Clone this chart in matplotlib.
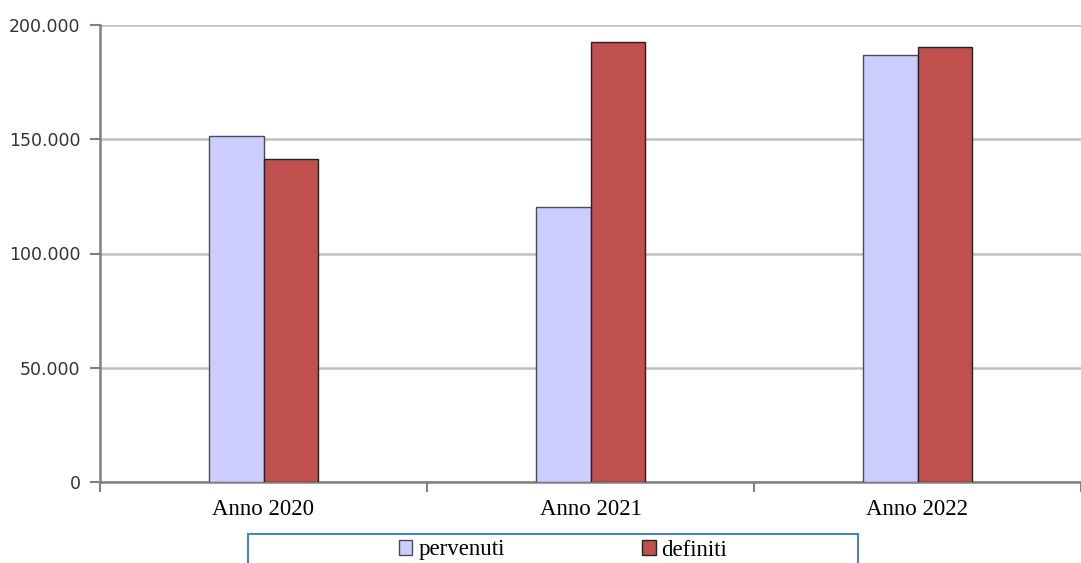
import numpy as np
import matplotlib
matplotlib.use("Agg")
import matplotlib.pyplot as plt
from matplotlib.patches import Rectangle
from matplotlib.ticker import FuncFormatter

# dati
anni = ["Anno 2020", "Anno 2021", "Anno 2022"]
pervenuti = [151400, 120400, 187000]
definiti = [141500, 192700, 190200]

fig = plt.figure(figsize=(10.81, 5.63), dpi=100)
ax = fig.add_axes([100/1081, 81/563, 981/1081, 457/563])

x = np.arange(len(anni))
w = 0.167
ax.bar(x - w/2, pervenuti, w, color='#ccccff', edgecolor='#4a4a5a', linewidth=1, label='pervenuti', zorder=3)
ax.bar(x + w/2, definiti, w, color='#c0504d', edgecolor='#222222', linewidth=1, label='definiti', zorder=3)

ax.set_xlim(-0.5, 2.465)
ax.set_ylim(0, 200000)
ax.set_yticks(np.arange(0, 200001, 50000))
ax.yaxis.set_major_formatter(FuncFormatter(lambda v, p: f"{int(v):,}".replace(",", ".")))
ax.grid(axis='y', color='#c0c0c0', linewidth=1.8, zorder=0)

# tacche sui confini delle categorie, etichette al centro
ax.set_xticks(np.arange(-0.5, 3, 1.0))
ax.set_xticklabels([])
ax.set_xticks(x, minor=True)
ax.set_xticklabels(anni, minor=True, fontsize=16.5, family='Liberation Serif')
ax.tick_params(axis='x', which='minor', length=0, pad=12)
ax.tick_params(axis='x', which='major', length=7, width=1.5, color='#808080', direction='out')
ax.tick_params(axis='y', length=7, width=1.5, color='#808080', labelsize=12.5,
               labelcolor='#333333', pad=7)

for s in ['top', 'right']:
    ax.spines[s].set_visible(False)
for s in ['left', 'bottom']:
    ax.spines[s].set_color('#808080')
    ax.spines[s].set_linewidth(1.8)

# riquadro della legenda (tagliato in basso)
fig.patches.append(Rectangle((248/1081, -0.02), 610/1081, (563-534)/563 + 0.02,
                             transform=fig.transFigure, fill=False,
                             edgecolor='#4f81bd', linewidth=1.5))
fig.legend(loc='center', bbox_to_anchor=(563/1081, (563-550)/563), ncol=2,
           frameon=False, prop={'family': 'Liberation Serif', 'size': 16.5},
           handlelength=0.6, handleheight=0.6, handletextpad=0.25,
           columnspacing=6.0, borderpad=0)

fig.savefig("out.png", dpi=100)
